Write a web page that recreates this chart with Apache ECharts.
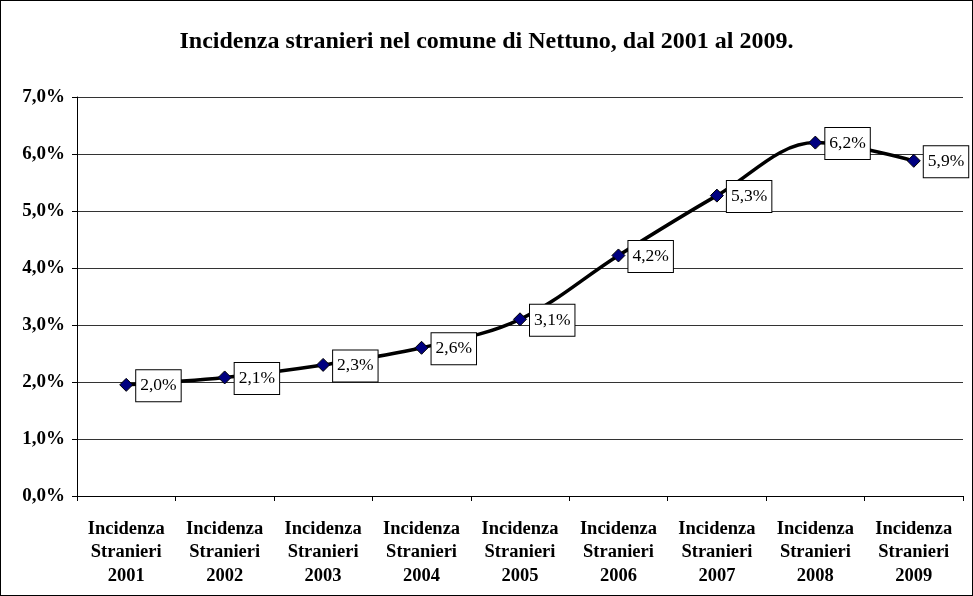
<!DOCTYPE html>
<html><head><meta charset="utf-8">
<script src="https://cdn.jsdelivr.net/npm/echarts@6/dist/echarts.min.js"></script>
<style>html,body{margin:0;padding:0;background:#fff}#c{width:973px;height:596px;box-sizing:border-box;border:1px solid #000}</style>
</head><body><div id="c"></div>
<script>
var titleText = 'Incidenza stranieri nel comune di Nettuno, dal 2001 al 2009.';
var categories = ['Incidenza\nStranieri\n2001','Incidenza\nStranieri\n2002','Incidenza\nStranieri\n2003','Incidenza\nStranieri\n2004','Incidenza\nStranieri\n2005','Incidenza\nStranieri\n2006','Incidenza\nStranieri\n2007','Incidenza\nStranieri\n2008','Incidenza\nStranieri\n2009'];
var values = [1.95, 2.08, 2.30, 2.60, 3.10, 4.22, 5.27, 6.20, 5.88];
var yTicks = [0,1,2,3,4,5,6,7];
var font = '"Liberation Serif","Times New Roman",serif';
var chart = echarts.init(document.getElementById('c'));
function pct(v){return (Math.round(v*10+1e-6)/10).toFixed(1).replace('.',',')+'%';}
chart.setOption({
  animation:false,
  title:{text:titleText,left:'center',top:24,textStyle:{fontFamily:font,fontWeight:'bold',fontSize:24,color:'#000'}},
  grid:{left:76,right:9,top:96,bottom:99,containLabel:false},
  xAxis:{type:'category',data:categories,boundaryGap:true,
    axisLine:{lineStyle:{color:'#000',width:1}},
    axisTick:{show:true,alignWithLabel:false,length:5,lineStyle:{color:'#000'}},
    axisLabel:{interval:0,fontFamily:font,fontWeight:'bold',fontSize:18.5,color:'#000',lineHeight:23.5,margin:21}},
  yAxis:{type:'value',min:yTicks[0],max:yTicks[yTicks.length-1],interval:1,
    axisLine:{show:true,lineStyle:{color:'#000'}},
    axisTick:{show:true,length:5,lineStyle:{color:'#000'}},
    splitLine:{lineStyle:{color:'#333',width:1}},
    axisLabel:{fontFamily:font,fontWeight:'bold',fontSize:19,color:'#000',margin:12,formatter:function(v){return pct(v);}}},
  series:[{type:'line',data:values,smooth:0.35,
    lineStyle:{color:'#000',width:3.5},
    symbol:'diamond',symbolSize:13,
    itemStyle:{color:'#000080',borderColor:'#000',borderWidth:1},
    label:{show:true,position:'right',distance:3,offset:[0,1],formatter:function(p){return pct(p.value);},
      fontFamily:font,fontSize:17.5,color:'#000',backgroundColor:'#fff',borderColor:'#000',borderWidth:1,padding:[7,4,6,4]}}]
});
</script></body></html>
